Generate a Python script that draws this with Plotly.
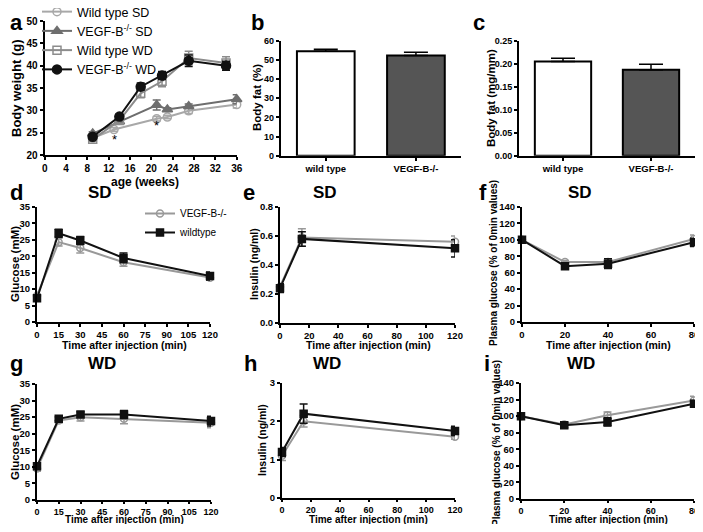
import plotly.graph_objects as go

# the page body has an 8px margin, so the figure is drawn 8px in from the
# window corner; size it so the page does not overflow the 703x532 window
OFF = 8
W, H = 703 - OFF, 532 - 2 * OFF

# ---- panel a: body weight ----
wt_sd_x = [9, 13, 21, 23, 27, 36]
wt_sd_y = [23.8, 25.7, 28.1, 28.5, 29.9, 31.3]
wt_sd_e = [0.3, 0.4, 0.5, 0.4, 0.6, 0.8]
ko_sd_x = [9, 14, 21, 23, 27, 36]
ko_sd_y = [24.8, 27.5, 31.2, 30.2, 30.9, 32.5]
ko_sd_e = [0.4, 0.6, 1.1, 0.4, 0.5, 1.0]
wt_wd_x = [9, 14, 18, 22, 27, 34]
wt_wd_y = [23.5, 27.7, 33.8, 36.5, 41.7, 40.6]
wt_wd_e = [0.4, 0.6, 1.0, 1.2, 1.5, 1.4]
ko_wd_x = [9, 14, 18, 22, 27, 34]
ko_wd_y = [24.1, 28.6, 35.3, 37.8, 41.1, 40.0]
ko_wd_e = [0.5, 0.5, 0.8, 0.9, 1.3, 1.0]

# ---- panels b, c: body fat ----
groups = ["wild type", "VEGF-B-/-"]
fat_pct = [54.5, 52.3]
fat_pct_e = [1.0, 1.7]
fat_mm = [0.205, 0.187]
fat_mm_e = [0.007, 0.012]

# ---- panels d, g: glucose tolerance ----
gtt_t = [0, 15, 30, 60, 120]
gtt_sd_ko = [8.0, 24.3, 22.5, 18.2, 13.5]
gtt_sd_ko_e = [0.5, 1.2, 1.5, 1.2, 0.8]
gtt_sd_wt = [7.2, 27.0, 24.8, 19.5, 14.0]
gtt_sd_wt_e = [0.8, 1.2, 1.2, 1.5, 1.2]
gtt_wd_ko = [9.5, 24.0, 25.0, 24.5, 23.3]
gtt_wd_ko_e = [0.8, 0.8, 1.2, 1.5, 1.5]
gtt_wd_wt = [10.2, 24.5, 25.8, 25.8, 23.8]
gtt_wd_wt_e = [0.5, 0.6, 0.8, 1.2, 1.5]

# ---- panels e, h: insulin ----
ins_t = [0, 15, 120]
ins_sd_ko = [0.25, 0.59, 0.56]
ins_sd_ko_e = [0.02, 0.06, 0.04]
ins_sd_wt = [0.24, 0.58, 0.515]
ins_sd_wt_e = [0.03, 0.05, 0.06]
ins_wd_ko = [1.1, 2.0, 1.6]
ins_wd_ko_e = [0.12, 0.15, 0.07]
ins_wd_wt = [1.2, 2.2, 1.75]
ins_wd_wt_e = [0.12, 0.25, 0.12]

# ---- panels f, i: insulin tolerance ----
itt_t = [0, 20, 40, 80]
itt_sd_ko = [100, 73, 73, 101]
itt_sd_ko_e = [2, 2, 4, 5]
itt_sd_wt = [100, 68, 71, 97]
itt_sd_wt_e = [2, 3, 6, 5]
itt_wd_ko = [100, 90, 101, 119]
itt_wd_ko_e = [3, 2, 4, 5]
itt_wd_wt = [100, 89, 93, 115]
itt_wd_wt_e = [3, 3, 5, 4]

FONT = "Liberation Sans, Arial, sans-serif"
GRAY = "#999999"


# window pixel -> paper coordinate
def px_x(p):
    return (p - OFF) / W


def px_y(p):
    return 1 - (p - OFF) / H


def dx(a, b):
    return [px_x(a), px_x(b)]


def dy(top, bottom):
    return [px_y(bottom), px_y(top)]


fig = go.Figure()


def line(x, y, e, ax, name, color, symbol, open_=False, legend=None, size=7):
    fig.add_trace(go.Scatter(
        x=x, y=y, mode="lines+markers", name=name,
        xaxis="x" + ax, yaxis="y" + ax,
        line=dict(color=color, width=2),
        marker=dict(symbol=symbol + ("-open" if open_ else ""), size=size, color=color,
                    line=dict(color=color, width=1.5)),
        error_y=dict(type="data", array=e, color=color, thickness=1.5, width=4),
        showlegend=legend is not None, legend=legend or "legend",
        cliponaxis=False))


# a
line(wt_sd_x, wt_sd_y, wt_sd_e, "", "Wild type SD", "#a8a8a8", "circle", True, "legend", 8)
line(ko_sd_x, ko_sd_y, ko_sd_e, "", "VEGF-B<sup>-/-</sup> SD", "#6e6e6e", "triangle-up", False, "legend", 9)
line(wt_wd_x, wt_wd_y, wt_wd_e, "", "Wild type WD", "#8c8c8c", "square", True, "legend", 8)
line(ko_wd_x, ko_wd_y, ko_wd_e, "", "VEGF-B<sup>-/-</sup> WD", "#111111", "circle", False, "legend", 9)

# b, c bars
for ax, vals, errs in [("2", fat_pct, fat_pct_e), ("3", fat_mm, fat_mm_e)]:
    fig.add_trace(go.Bar(
        x=groups, y=vals, xaxis="x" + ax, yaxis="y" + ax, width=0.64,
        marker=dict(color=["white", "#555555"], line=dict(color="black", width=2)),
        error_y=dict(type="data", array=errs, arrayminus=[0, 0], symmetric=False,
                     color="black", thickness=1.5, width=12),
        showlegend=False))

# d-i
panels = [
    ("4", gtt_t, gtt_sd_ko, gtt_sd_ko_e, gtt_sd_wt, gtt_sd_wt_e, "legend2"),
    ("5", ins_t, ins_sd_ko, ins_sd_ko_e, ins_sd_wt, ins_sd_wt_e, None),
    ("6", itt_t, itt_sd_ko, itt_sd_ko_e, itt_sd_wt, itt_sd_wt_e, None),
    ("7", gtt_t, gtt_wd_ko, gtt_wd_ko_e, gtt_wd_wt, gtt_wd_wt_e, None),
    ("8", ins_t, ins_wd_ko, ins_wd_ko_e, ins_wd_wt, ins_wd_wt_e, None),
    ("9", itt_t, itt_wd_ko, itt_wd_ko_e, itt_wd_wt, itt_wd_wt_e, None),
]
for ax, t, ko, ko_e, wt, wt_e, leg in panels:
    line(t, ko, ko_e, ax, "VEGF-B-/-", GRAY, "circle", True, leg, 7)
    line(t, wt, wt_e, ax, "wildtype", "#111111", "square", False, leg, 7)


def axis(domain, rng=None, dtick=None, anchor=None, fmt=None, fs=9.5, tl=3):
    d = dict(domain=domain, showline=True, linecolor="black", linewidth=2,
             ticks="outside", ticklen=tl, tickwidth=1.5, tickcolor="black",
             showgrid=False, zeroline=False, anchor=anchor, automargin=False,
             ticklabeloverflow="allow",
             tickfont=dict(family=FONT, size=fs, color="black", weight="bold"))
    if rng is not None:
        d["range"] = rng
    if dtick is not None:
        d["dtick"] = dtick
        d["tick0"] = 0
    if fmt:
        d["tickformat"] = fmt
    return d


fig.update_layout(
    template="none",
    width=W, height=H, margin=dict(l=0, r=0, t=0, b=0, autoexpand=False),
    paper_bgcolor="white", plot_bgcolor="white",
    font=dict(family=FONT, color="black"),
    xaxis=axis(dx(44.7, 236.7), [0, 36], 4, "y", fs=10),
    yaxis=axis(dy(21, 155), [20, 50], 5, "x", fs=10),
    xaxis2=axis(dx(280.7, 461), [-0.5, 1.5], None, "y2"),
    yaxis2=axis(dy(40.7, 155.7), [0, 60], 10, "x2", fs=9),
    xaxis3=axis(dx(519, 695), [-0.5, 1.5], None, "y3"),
    yaxis3=axis(dy(40.7, 155.7), [0, 0.25], 0.05, "x3", ".2f", fs=9),
    xaxis4=axis(dx(37, 210), [0, 120], 15, "y4"),
    yaxis4=axis(dy(207, 322), [0, 35], 5, "x4"),
    xaxis5=axis(dx(280, 455), [0, 120], 20, "y5"),
    yaxis5=axis(dy(207, 323), [0, 0.8], 0.2, "x5", ".1f"),
    xaxis6=axis(dx(522, 694), [0, 80], 20, "y6"),
    yaxis6=axis(dy(207, 322), [0, 140], 20, "x6"),
    xaxis7=axis(dx(37, 211), [0, 120], 15, "y7", fs=9, tl=2),
    yaxis7=axis(dy(384, 500), [0, 35], 5, "x7"),
    xaxis8=axis(dx(282, 455), [0, 120], 20, "y8", fs=9, tl=2),
    yaxis8=axis(dy(383, 498), [0, 3], 1, "x8"),
    xaxis9=axis(dx(521, 694), [0, 80], 20, "y9", fs=9, tl=2),
    yaxis9=axis(dy(383, 499), [0, 140], 20, "x9"),
    legend=dict(x=px_x(37), y=px_y(-3), xanchor="left", yanchor="top",
                bgcolor="rgba(0,0,0,0)", font=dict(family=FONT, size=12.5, color="black"),
                tracegroupgap=0, itemwidth=30),
    legend2=dict(x=px_x(140), y=px_y(199), xanchor="left", yanchor="top",
                 bgcolor="rgba(0,0,0,0)", font=dict(family=FONT, size=10, color="black"),
                 itemwidth=30),
)


def label(text, x, y, size, angle=0, anchor="center"):
    fig.add_annotation(text=text, x=px_x(x), y=px_y(y), xref="paper", yref="paper",
                       showarrow=False, xanchor=anchor, yanchor="middle",
                       textangle=angle,
                       font=dict(family=FONT, size=size, color="black", weight="bold"))


# panel letters
for txt, x, y in [("a", 8, 22), ("b", 249, 22), ("c", 471, 22),
                  ("d", 8, 193), ("e", 241, 193), ("f", 477, 193),
                  ("g", 8, 363), ("h", 242, 363), ("i", 482, 363)]:
    label(txt, x, y, 22, anchor="left")

# panel titles
for txt, x, y in [("SD", 100, 193), ("SD", 325, 193), ("SD", 580, 193),
                  ("WD", 102, 363), ("WD", 327, 363), ("WD", 581, 363)]:
    label(txt, x, y, 17)

# axis titles
TX = "Time after injection (min)"
PG = "Plasma glucose (% of 0min values)"
label("Body weight (g)", 16, 88, 13, -90)
label("age (weeks)", 145, 182, 12)
label("Body fat (%)", 257, 98, 11.5, -90)
label("Body fat (mg/mm)", 491, 98, 11.5, -90)
label("Glucose (mM)", 15, 264, 11.5, -90)
label("Insulin (ng/ml)", 254, 264, 10.5, -90)
label(PG, 493, 263, 10, -90)
label("Glucose (mM)", 15, 442, 11.5, -90)
label("Insulin (ng/ml)", 262, 440, 10.5, -90)
label(PG, 496, 443, 10, -90)
for xc in [124, 368, 608]:
    label(TX, xc, 345, 10.5)
    label(TX, xc, 519, 10)

# significance stars
for sx, sy in [(13, 23.4), (21, 26.6)]:
    fig.add_annotation(text="*", x=sx, y=sy, xref="x", yref="y", showarrow=False,
                       font=dict(family=FONT, size=13, color="black"))

fig.write_html("out.html")
